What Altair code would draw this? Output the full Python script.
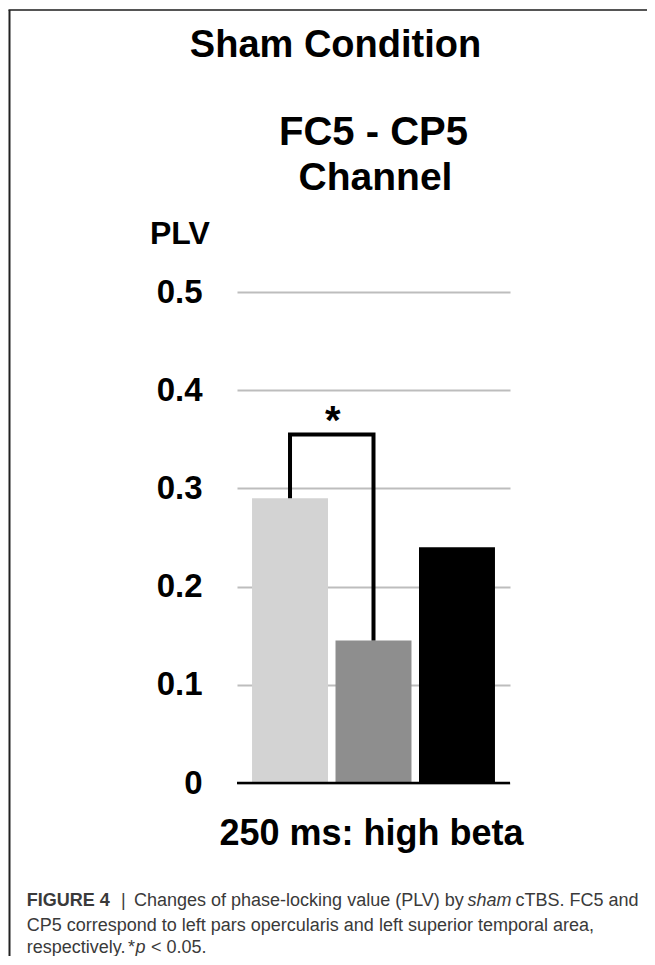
import altair as alt
import pandas as pd

# ---- data ----
conditions = ["pre", "post1", "post2"]
plv_values = [0.29, 0.145, 0.24]
bar_colors = ["#d3d3d3", "#8e8e8e", "#000000"]
y_ticks = [0, 0.1, 0.2, 0.3, 0.4, 0.5]
bracket_cond = ["pre", "pre", "post1", "post1"]
bracket_plv = [0.29, 0.355, 0.355, 0.145]
bracket_order = [0, 1, 2, 3]
baseline_plv = [0]

title_main = "Sham Condition"
title_ch1 = "FC5 - CP5"
title_ch2 = "Channel"
y_title = "PLV"
x_title = "250 ms: high beta"
sig_mark = "*"

W, H = 273, 491
FONT = "Liberation Sans"

bars_df = pd.DataFrame({"cond": conditions, "plv": plv_values})
br_df = pd.DataFrame({"cond": bracket_cond, "plv": bracket_plv, "o": bracket_order})
base_df = pd.DataFrame({"plv": baseline_plv})

xscale = alt.Scale(domain=conditions, paddingInner=0.09, paddingOuter=0.18)
yscale = alt.Scale(domain=[0, 0.5], nice=False)

y_axis = alt.Axis(values=y_ticks, format=".1~f", grid=True, gridColor="#bdbdbd",
                  gridWidth=2, ticks=False, domain=False, labelFont=FONT,
                  labelFontWeight="bold", labelFontSize=33, labelColor="#000",
                  labelPadding=35, title=None)

bars = alt.Chart(bars_df).mark_bar().encode(
    x=alt.X("cond:N", scale=xscale, axis=None),
    y=alt.Y("plv:Q", scale=yscale, axis=y_axis),
    color=alt.Color("cond:N", scale=alt.Scale(domain=conditions, range=bar_colors), legend=None),
)

base = alt.Chart(base_df).mark_rule(color="#000", strokeWidth=2.5).encode(
    y=alt.Y("plv:Q", scale=yscale), x=alt.value(0), x2=alt.value(W)
)

bracket = alt.Chart(br_df).mark_line(color="#000", strokeWidth=4, strokeJoin="miter", strokeCap="butt").encode(
    x=alt.X("cond:N", scale=xscale),
    y=alt.Y("plv:Q", scale=yscale),
    order="o:Q",
)


def txt(s, x, y, size, weight="normal", style="normal", align="left", color="#000"):
    return alt.Chart(pd.DataFrame({"t": [s]})).mark_text(
        align=align, baseline="alphabetic", fontSize=size, fontWeight=weight,
        fontStyle=style, font=FONT, color=color
    ).encode(text="t:N", x=alt.value(x), y=alt.value(y))


star = txt(sig_mark, 95.7, 142, 40, weight="bold", align="center")

cap_col = "#3a3a3a"
texts = [
    txt(title_main, 98.5, -235, 38, weight="bold", align="center"),
    txt(title_ch1, 136.5, -147, 40, weight="bold", align="center"),
    txt(title_ch2, 138.5, -102, 39, weight="bold", align="center"),
    txt(y_title, -87, -48, 32, weight="bold"),
    txt(x_title, 134.5, 553, 36, weight="bold", align="center"),
    txt("FIGURE 4", -210.3, 614, 18, weight="bold", color=cap_col),
    txt("|", -116, 614, 18, color=cap_col),
    txt("Changes of phase-locking value (PLV) by", -103, 614, 18, color=cap_col),
    txt("sham", 230.5, 614, 18, style="italic", color=cap_col),
    txt("cTBS. FC5 and", 278.5, 614, 18, color=cap_col),
    txt("CP5 correspond to left pars opercularis and left superior temporal area,", -210.3, 639, 18, color=cap_col),
    txt("respectively.", -210.3, 661, 18, color=cap_col),
    txt("*", -109, 661, 18, color=cap_col),
    txt("p", -101.5, 661, 18, style="italic", color=cap_col),
    txt("< 0.05.", -86, 661, 18, color=cap_col),
]

frame_top = alt.Chart(base_df).mark_rule(color="#555", strokeWidth=2).encode(
    x=alt.value(-228.5), x2=alt.value(410), y=alt.value(-282), y2=alt.value(-282)
)
frame_left = alt.Chart(base_df).mark_rule(color="#222", strokeWidth=2).encode(
    x=alt.value(-227.5), x2=alt.value(-227.5), y=alt.value(-282), y2=alt.value(680)
)

chart = alt.layer(bars, base, bracket, star, *texts, frame_top, frame_left).properties(
    width=W, height=H,
    padding={"left": 229, "top": 284, "right": 137, "bottom": 173},
    autosize=alt.AutoSizeParams(type="none"),
    background="white",
).configure_view(stroke="transparent")

chart.save("out.html", embed_options={"renderer": "svg", "actions": False})
